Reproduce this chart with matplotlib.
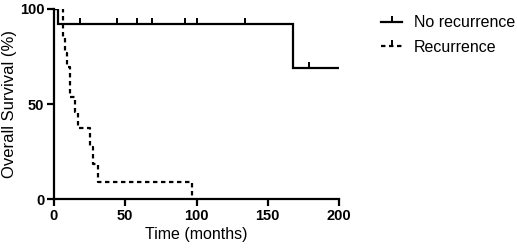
import matplotlib.pyplot as plt
from matplotlib.lines import Line2D

plt.rcParams['font.family'] = ['Liberation Sans', 'DejaVu Sans']

# No recurrence group
norec_time = [0, 3, 168, 200]
norec_surv = [100, 92.3, 69.2, 69.2]
norec_censor_t = [18, 44, 58, 68.5, 92, 100.6, 134, 178.7]

# Recurrence group
rec_time = [0, 6.5, 7.7, 9.2, 11.2, 14.7, 17, 25.3, 27.6, 31, 96.6]
rec_surv = [100, 84.7, 77.0, 69.5, 53.8, 46.0, 37.2, 27.5, 18.6, 9.1, 0]


def surv_at(times, survs, t):
    s = survs[0]
    for ti, si in zip(times, survs):
        if ti <= t:
            s = si
    return s


fig = plt.figure(figsize=(5.17, 2.49), dpi=100)
ax = fig.add_axes([54 / 517, 50 / 249, 285 / 517, 190 / 249])

ax.step(norec_time, norec_surv, where='post', color='black', lw=1.6,
        solid_joinstyle='miter')
ax.plot(norec_censor_t, [surv_at(norec_time, norec_surv, t) for t in norec_censor_t],
        ls='none', marker=2, ms=4, mew=1.4, color='black')
ax.step(rec_time, rec_surv, where='post', color='black', lw=1.6,
        ls=(0, (2, 1.6)))

ax.set_xlim(0, 200)
ax.set_ylim(0, 100)
ax.set_xticks([0, 50, 100, 150, 200])
ax.set_yticks([0, 50, 100])
for s in ['top', 'right']:
    ax.spines[s].set_visible(False)
for s in ['left', 'bottom']:
    ax.spines[s].set_linewidth(1.6)
ax.tick_params(direction='out', length=5, width=1.6, labelsize=10.5, pad=2)
for lab in ax.get_xticklabels() + ax.get_yticklabels():
    lab.set_fontweight('bold')
ax.set_xlabel('Time (months)', fontsize=11.5, labelpad=3)
ax.set_ylabel('Overall Survival (%)', fontsize=12, labelpad=2)

handles = [
    Line2D([], [], color='black', lw=1.6, marker=2, ms=4, mew=1.4),
    Line2D([], [], color='black', lw=1.6, ls=(0, (2, 1.6)), marker=2, ms=4, mew=1.4),
]
fig.legend(handles, ['No recurrence', 'Recurrence'], loc='upper left',
           bbox_to_anchor=(367 / 517, 1 - 1 / 249), frameon=False,
           fontsize=11.5, handlelength=1.3, handletextpad=0.75,
           labelspacing=0.6, numpoints=1)

fig.savefig('out.png', dpi=100)
